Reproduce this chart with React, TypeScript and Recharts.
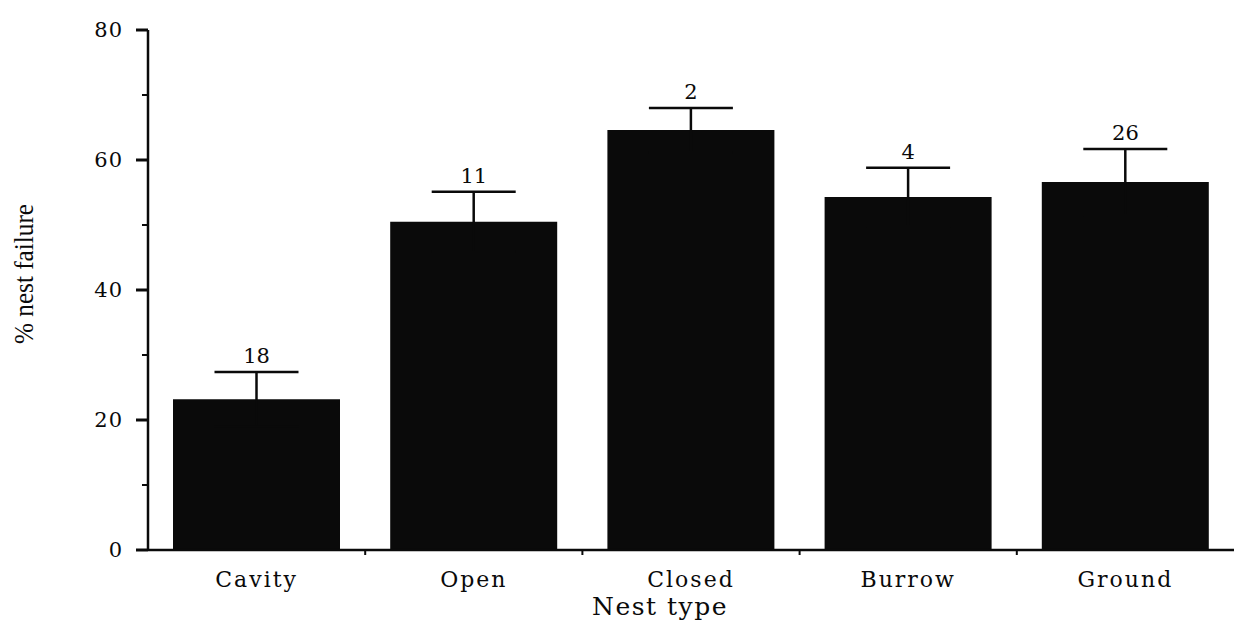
import React from 'react';
import {
  ComposedChart,
  Bar,
  Line,
  XAxis,
  YAxis,
  ErrorBar,
  LabelList
} from 'recharts';

// values
const nestTypes = ['Cavity', 'Open', 'Closed', 'Burrow', 'Ground'];
const failurePct = [23.2, 50.5, 64.6, 54.3, 56.6];
const failureErr = [4.2, 4.6, 3.4, 4.5, 5.1];
const sampleSizes = [18, 11, 2, 4, 26];

// every 10 gets a tick, every 20 a label
const yTicks = [0, 10, 20, 30, 40, 50, 60, 70, 80];
const yLabelStep = 20;

const data = nestTypes.map((name, i) => ({
  name,
  pct: failurePct[i],
  err: failureErr[i],
  top: failurePct[i] + failureErr[i],
  n: sampleSizes[i]
}));

const SERIF = '"DejaVu Serif", serif';
const INK = '#0a0a0a';

// y tick: long tick + label on majors, short tick on minors
const YTick = ({ x, y, payload }: any) => {
  const major = payload.value % yLabelStep === 0;
  const len = major ? 12 : 6;
  return (
    <g>
      <line x1={x - len} y1={y} x2={x} y2={y} stroke={INK} strokeWidth={major ? 3 : 2} />
      {major && (
        <text
          x={x - len - 13}
          y={y}
          textAnchor="end"
          dominantBaseline="central"
          fontFamily={SERIF}
          fontSize={21}
          letterSpacing={1}
          fill={INK}
        >
          {payload.value}
        </text>
      )}
    </g>
  );
};

// x tick: category name under band centre, small tick on the band's left edge
const XTick = ({ x, y, payload, index }: any) => {
  const half = payload.offset || 0;
  return (
    <g>
      {index > 0 && (
        <line x1={x - half} y1={y} x2={x - half} y2={y + 5} stroke={INK} strokeWidth={2} />
      )}
      <text
        x={x}
        y={y + 37}
        textAnchor="middle"
        fontFamily={SERIF}
        fontSize={22}
        letterSpacing={2}
        fill={INK}
      >
        {payload.value}
      </text>
    </g>
  );
};

const YTitle = ({ viewBox }: any) => {
  const cx = 24;
  const cy = viewBox.y + viewBox.height / 2 - 16;
  return (
    <text
      x={0}
      y={0}
      transform={`translate(${cx} ${cy}) rotate(-90) scale(0.9 1)`}
      textAnchor="middle"
      dominantBaseline="central"
      fontFamily='"Liberation Serif", serif'
      fontSize={28}
      fill={INK}
    >
      % nest failure
    </text>
  );
};

const XTitle = ({ viewBox }: any) => (
  <text
    x={viewBox.x + viewBox.width / 2 - 31}
    y={615}
    textAnchor="middle"
    fontFamily={SERIF}
    fontSize={25}
    letterSpacing={1.5}
    fill={INK}
  >
    Nest type
  </text>
);

export default function App() {
  return (
    <div style={{ position: 'absolute', left: 0, top: 0, width: 1241, height: 632, background: '#fff' }}>
      <ComposedChart
        width={1241}
        height={632}
        data={data}
        margin={{ top: 30, right: 7, left: 88, bottom: 0 }}
      >
        <YAxis
          width={60}
          domain={[0, 80]}
          ticks={yTicks}
          interval={0}
          tickSize={0}
          tickMargin={0}
          tickLine={false}
          axisLine={{ stroke: INK, strokeWidth: 2.5 }}
          tick={<YTick />}
          label={<YTitle />}
        />
        <XAxis
          dataKey="name"
          height={82}
          interval={0}
          tickSize={0}
          tickMargin={0}
          tickLine={false}
          axisLine={{ stroke: INK, strokeWidth: 2.5 }}
          tick={<XTick />}
          label={<XTitle />}
        />
        <Bar dataKey="pct" fill={INK} barSize={167} isAnimationActive={false}>
          <ErrorBar dataKey="err" direction="y" width={42} stroke={INK} strokeWidth={2.5} />
        </Bar>
        <Line
          dataKey="top"
          stroke="none"
          dot={false}
          activeDot={false}
          isAnimationActive={false}
        >
          <LabelList
            dataKey="n"
            position="top"
            offset={9}
            fontFamily={SERIF}
            fontSize={21}
            fill={INK}
          />
        </Line>
      </ComposedChart>
    </div>
  );
}
